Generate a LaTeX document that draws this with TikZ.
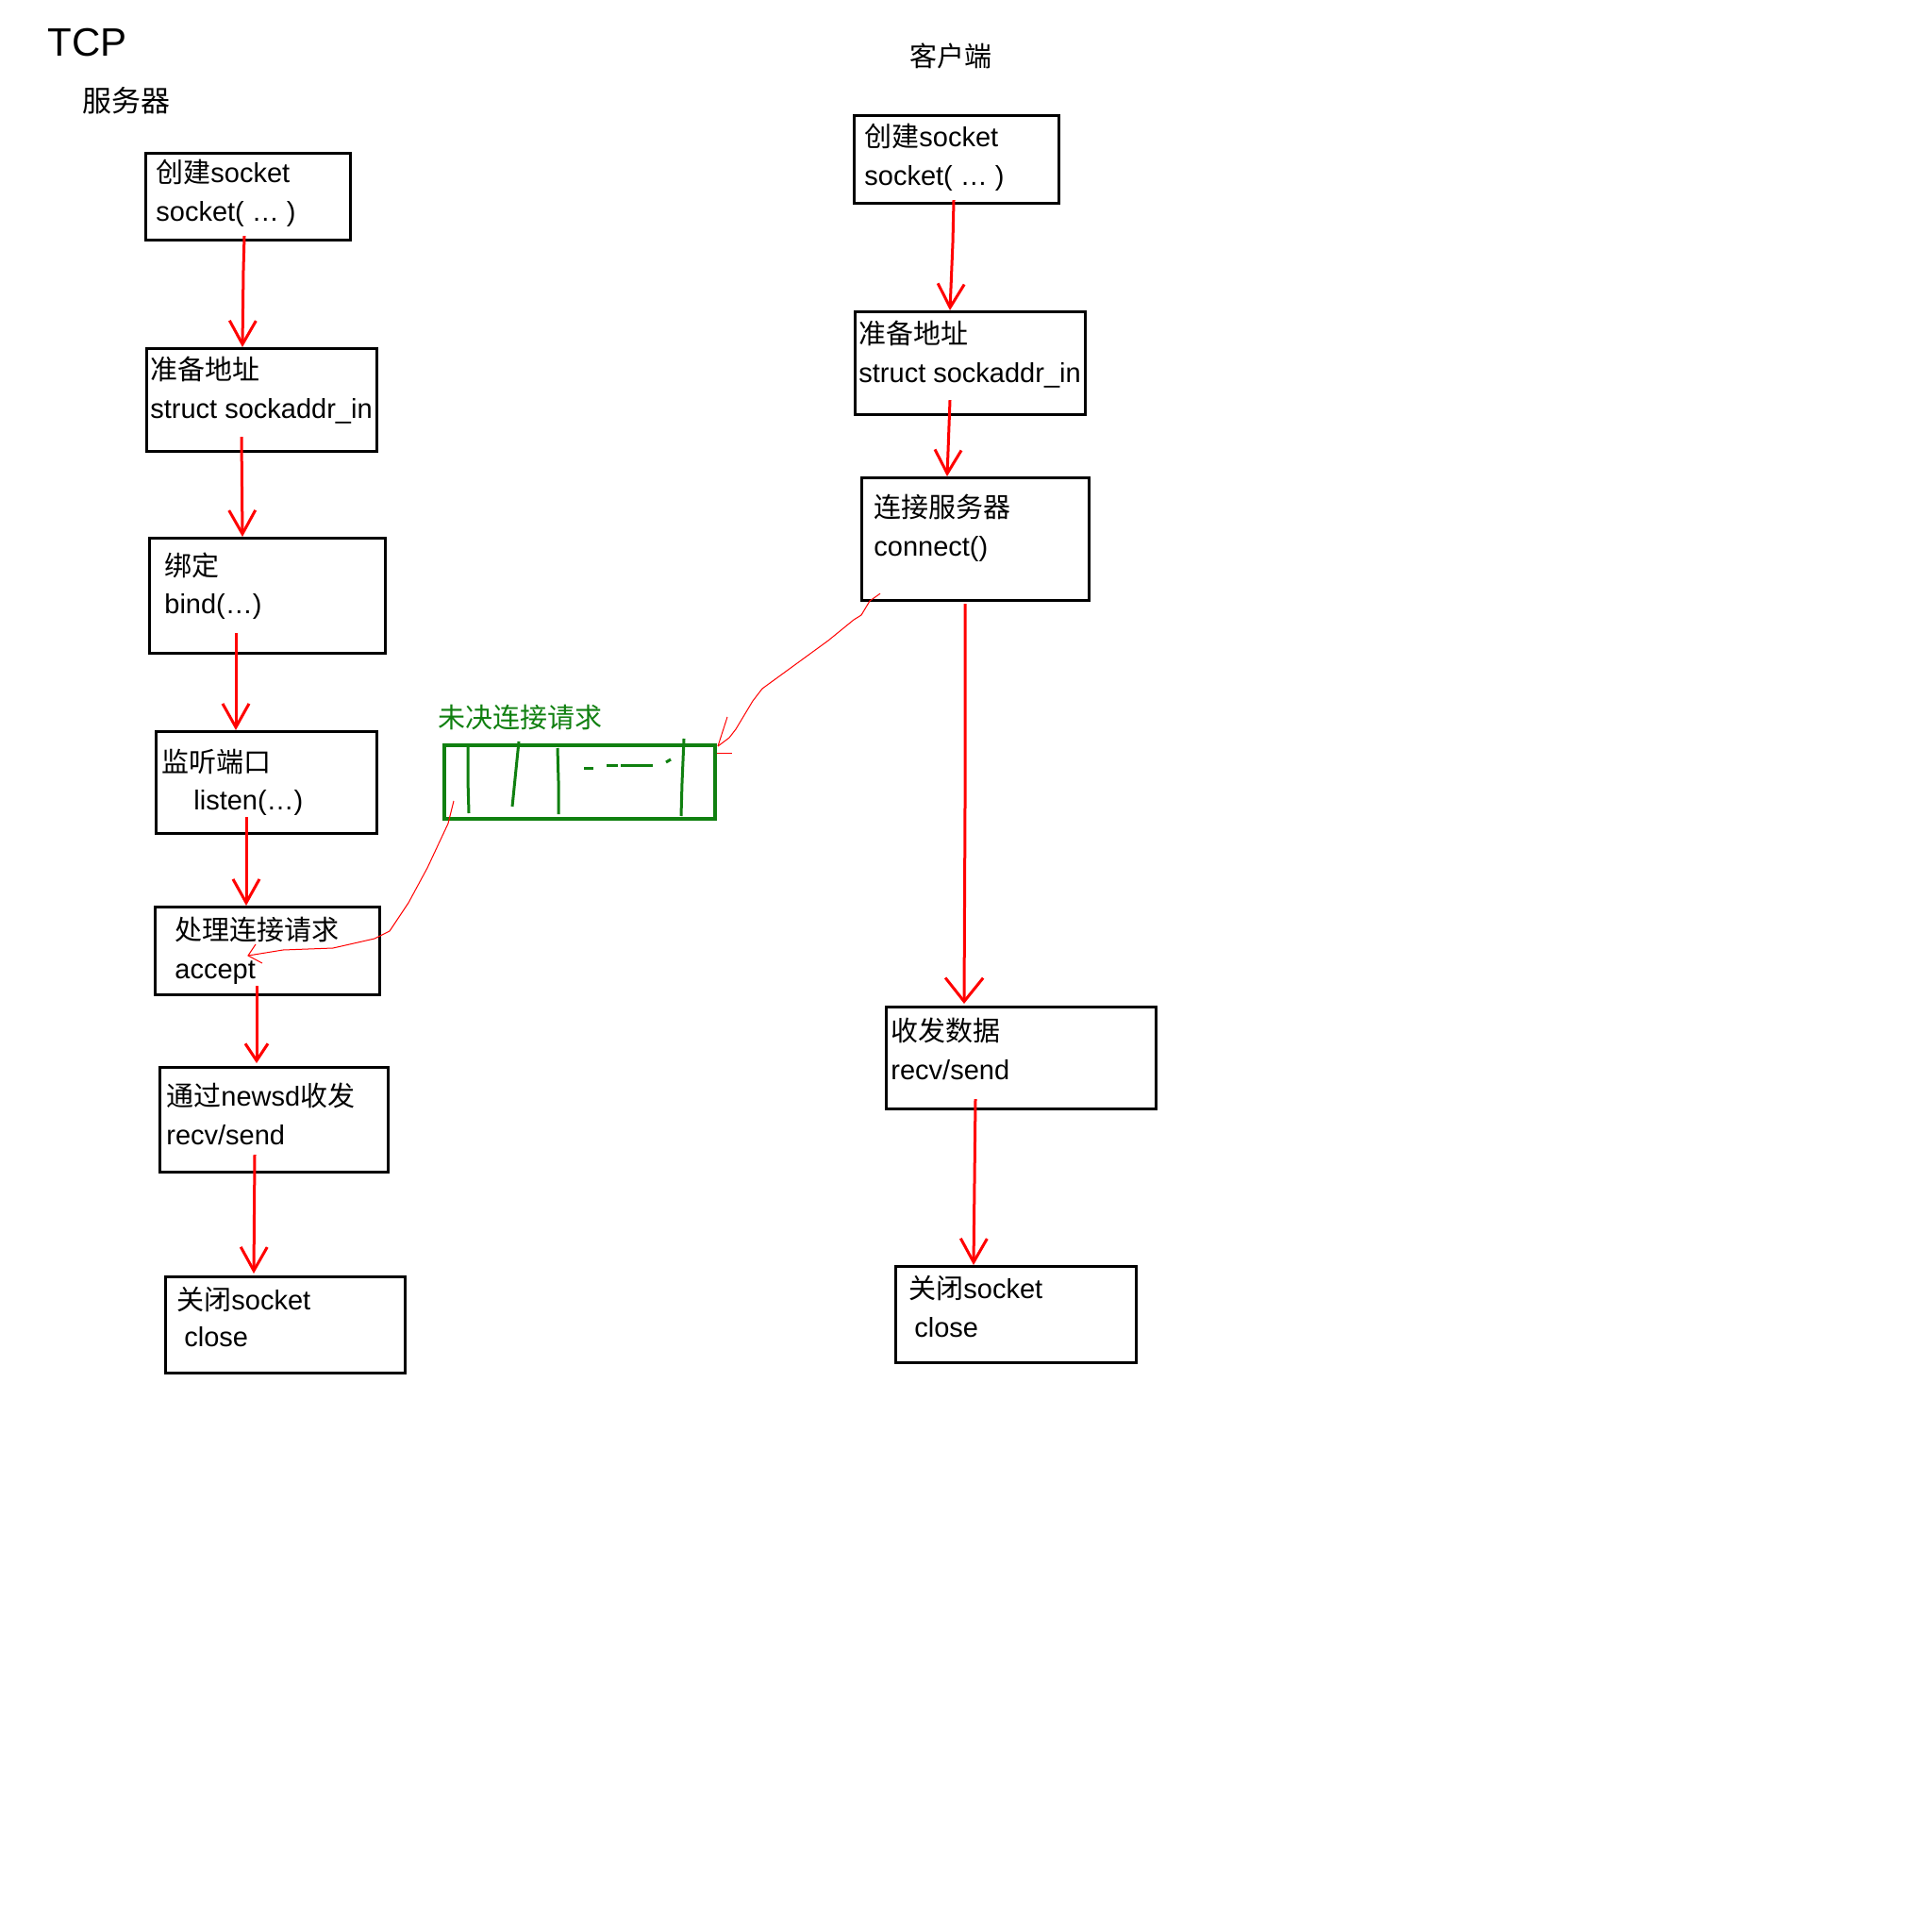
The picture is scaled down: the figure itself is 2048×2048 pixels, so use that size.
\documentclass[tikz,border=0pt]{standalone}
\usepackage{fontspec}
\setmainfont{Liberation Sans}
\newfontfamily\cjk{Noto Sans CJK SC}
\newcommand{\zh}[1]{{\cjk #1}}
\usetikzlibrary{arrows.meta,calc}
\definecolor{penred}{RGB}{255,0,0}
\definecolor{pengreen}{RGB}{16,128,16}
\begin{document}
\begin{tikzpicture}[x=0.5pt,y=-0.5pt,
  box/.style={draw=black,line width=1.6pt,rectangle,inner sep=0pt,anchor=north west},
  queuebox/.style={draw=pengreen,line width=2pt,rectangle,inner sep=0pt,anchor=north west},
  lbl/.style={anchor=base west,inner sep=0pt,font=\fontsize{14.5pt}{17pt}\selectfont},
  title/.style={anchor=base west,inner sep=0pt,font=\fontsize{21pt}{25pt}\selectfont},
  flow/.style={draw=penred,line width=1.5pt,-{Straight Barb[length=12.5pt,width=14pt]}},
  bigflow/.style={draw=penred,line width=1.5pt,-{Straight Barb[length=12.5pt,width=20pt]}},
  smallflow/.style={draw=penred,line width=1.5pt,-{Straight Barb[length=9pt,width=12pt]}},
  sketch/.style={draw=penred,line width=0.5pt},
  ink/.style={draw=pengreen,line width=1.5pt}]
\useasboundingbox (0,0) rectangle (2048,2048);
\fill[white] (0,0) rectangle (2048,2048);

% headings
\node[title] (tcp) at (50,60) {TCP};
\node[lbl,font=\fontsize{15.5pt}{18pt}\selectfont\cjk] (srv) at (87,119) {服务器};
\node[lbl,font=\fontsize{14.5pt}{17pt}\selectfont\cjk] (cli) at (964,71) {客户端};

% server steps
\node[box,minimum width=108.5pt,minimum height=46pt] (s1) at (153,161) {};
\node[lbl] (s1a) at (165,194) {\zh{创建}socket};
\node[lbl] (s1b) at (165,235) {socket( … )};

\node[box,minimum width=122pt,minimum height=54.5pt] (s2) at (154,368) {};
\node[lbl] (s2a) at (159,403) {\zh{准备地址}};
\node[lbl] (s2b) at (159,444) {struct sockaddr\_in};

\node[box,minimum width=125pt,minimum height=61pt] (s3) at (157,569) {};
\node[lbl] (s3a) at (174,610) {\zh{绑定}};
\node[lbl] (s3b) at (174,650) {bind(…)};

\node[box,minimum width=117pt,minimum height=54pt] (s4) at (164,774) {};
\node[lbl] (s4a) at (171,818) {\zh{监听端口}};
\node[lbl] (s4b) at (205,858) {listen(…)};

\node[box,minimum width=119pt,minimum height=46.5pt] (s5) at (163,960) {};
\node[lbl] (s5a) at (185,996) {\zh{处理连接请求}};
\node[lbl] (s5b) at (185,1037) {accept};

\node[box,minimum width=121pt,minimum height=55.5pt] (s6) at (168,1130) {};
\node[lbl] (s6a) at (176,1172) {\zh{通过}newsd\zh{收发}};
\node[lbl] (s6b) at (176,1213) {recv/send};

\node[box,minimum width=127pt,minimum height=51pt] (s7) at (174,1352) {};
\node[lbl] (s7a) at (187,1388) {\zh{关闭}socket};
\node[lbl] (s7b) at (195,1427) {close};

% client steps
\node[box,minimum width=108.5pt,minimum height=46.5pt] (c1) at (904,121) {};
\node[lbl] (c1a) at (916,156) {\zh{创建}socket};
\node[lbl] (c1b) at (916,197) {socket( … )};

\node[box,minimum width=122pt,minimum height=54.5pt] (c2) at (905,329) {};
\node[lbl] (c2a) at (910,365) {\zh{准备地址}};
\node[lbl] (c2b) at (910,406) {struct sockaddr\_in};

\node[box,minimum width=120.5pt,minimum height=65pt] (c3) at (912,505) {};
\node[lbl] (c3a) at (926,548) {\zh{连接服务器}};
\node[lbl] (c3b) at (926,589) {connect()};

\node[box,minimum width=143pt,minimum height=54pt] (c4) at (938,1066) {};
\node[lbl] (c4a) at (944,1103) {\zh{收发数据}};
\node[lbl] (c4b) at (944,1144) {recv/send};

\node[box,minimum width=127.5pt,minimum height=51pt] (c5) at (948,1341) {};
\node[lbl] (c5a) at (963,1376) {\zh{关闭}socket};
\node[lbl] (c5b) at (969,1417) {close};

% pending connection queue
\node[lbl,text=pengreen,font=\fontsize{14.5pt}{17pt}\selectfont\cjk] (qlbl) at (464,771) {未决连接请求};
\node[queuebox,minimum width=143.5pt,minimum height=39pt] (queue) at (469,788) {};
\draw[ink] (496,790) -- (496,827) -- (497,862);
\draw[ink] (550,786) -- (543,855);
\draw[ink] (591,793) -- (592,828) -- (592,863);
\draw[ink] (619,814) -- (629,814);
\draw[ink] (643,811) -- (655,811);
\draw[ink] (658,811) -- (692,811);
\draw[ink] (706,808) -- (711,805);
\draw[ink] (725,783) -- (723,830) -- (722,865);

% server flow
\draw[flow] ($(s1.south west)+(106,-6)$) -- ($(s1.south west)+(105,30)$) -- ($(s2.north west)+(103,0)$);
\draw[flow] ($(s2.south west)+(102,-17)$) -- ($(s3.north west)+(100,0)$);
\draw[flow] ($(s3.south west)+(93,-23)$) -- ($(s4.north west)+(86,0)$);
\draw[flow] ($(s4.south west)+(97,-19)$) -- ($(s5.north west)+(98,0)$);
\draw[smallflow] ($(s5.south west)+(109,-11)$) -- ($(s6.north west)+(104,-3)$);
\draw[flow] ($(s6.south west)+(102,-20)$) -- ($(s7.north west)+(95,-2)$);

% client flow
\draw[flow] ($(c1.south west)+(107,-5)$) -- ($(c1.south west)+(106,40)$) -- ($(c2.north west)+(102,0)$);
\draw[flow] ($(c2.south west)+(102,-17)$) -- ($(c3.north west)+(92,0)$);
\draw[bigflow] ($(c3.south west)+(111,2)$) -- ($(c3.south west)+(111,215)$) -- ($(c4.north west)+(84,-2)$);
\draw[flow] ($(c4.south west)+(96,-12)$) -- ($(c5.north west)+(84,0)$);

% connect() request entering the queue
\coordinate (qin) at ($(queue.north east)+(1,3)$);
\draw[sketch] ($(c3.south west)+(21,-9)$) -- (922,637) -- (913,652) -- (905,657) -- (878,679)
  -- (808,730) -- (798,743) -- (780,773) -- (773,782) -- (qin);
\draw[sketch] ($(qin)+(10,-31)$) -- (qin);
\draw[sketch] ($(qin)+(-1,7)$) -- ($(qin)+(15,7)$);

% accept() taking a request from the queue
\coordinate (acc) at ($(s5.north west)+(100,53)$);
\draw[sketch] ($(queue.south west)+(12,-21)$) -- (475,873) -- (453,920) -- (433,957) -- (413,987)
  -- (397,995) -- (353,1005) -- (300,1007) -- (acc);
\draw[sketch] ($(acc)+(8,-12)$) -- (acc) -- ($(acc)+(15,8)$);
\end{tikzpicture}
\end{document}
